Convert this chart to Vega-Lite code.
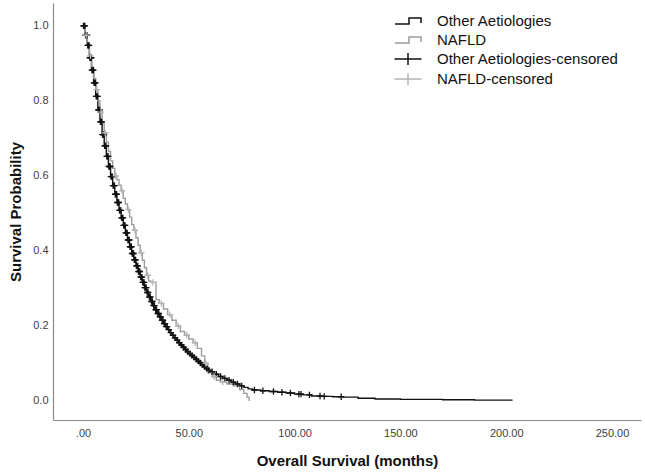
{
  "$schema": "https://vega.github.io/schema/vega-lite/v6.json",
  "width": 588,
  "height": 417,
  "autosize": {"type": "none"},
  "padding": {"left": 53, "top": 3, "right": 4, "bottom": 56},
  "background": "white",
  "config": {
    "view": {"stroke": null},
    "font": "Liberation Sans",
    "axis": {"grid": false, "ticks": false, "domainColor": "#8a8a8a", "domainWidth": 1.2, "labelColor": "#404040", "labelFont": "Liberation Sans", "labelFontSize": 11, "titleFont": "Liberation Sans", "titleFontSize": 15, "titleFontWeight": "bold", "titleColor": "#111111"},
    "legend": {"orient": "none", "legendX": 344, "legendY": 7, "padding": 0, "rowPadding": 0, "symbolSize": 400, "symbolStrokeWidth": 1.5, "symbolFillColor": "transparent", "labelFont": "Liberation Sans", "labelFontSize": 15, "labelColor": "#111111", "labelOffset": 18, "labelLimit": 300}
  },
  "datasets": {
    "curves": [
      {"series": "Other Aetiologies", "t": 0, "s": 1.0},
      {"series": "Other Aetiologies", "t": 1, "s": 0.975},
      {"series": "Other Aetiologies", "t": 2, "s": 0.948},
      {"series": "Other Aetiologies", "t": 3, "s": 0.915},
      {"series": "Other Aetiologies", "t": 4, "s": 0.882},
      {"series": "Other Aetiologies", "t": 5, "s": 0.848},
      {"series": "Other Aetiologies", "t": 6, "s": 0.812},
      {"series": "Other Aetiologies", "t": 7, "s": 0.776},
      {"series": "Other Aetiologies", "t": 8, "s": 0.744},
      {"series": "Other Aetiologies", "t": 9, "s": 0.71},
      {"series": "Other Aetiologies", "t": 10, "s": 0.68},
      {"series": "Other Aetiologies", "t": 11, "s": 0.652},
      {"series": "Other Aetiologies", "t": 12, "s": 0.625},
      {"series": "Other Aetiologies", "t": 13, "s": 0.598},
      {"series": "Other Aetiologies", "t": 14, "s": 0.574},
      {"series": "Other Aetiologies", "t": 15, "s": 0.551},
      {"series": "Other Aetiologies", "t": 16, "s": 0.529},
      {"series": "Other Aetiologies", "t": 17, "s": 0.508},
      {"series": "Other Aetiologies", "t": 18, "s": 0.488},
      {"series": "Other Aetiologies", "t": 19, "s": 0.468},
      {"series": "Other Aetiologies", "t": 20, "s": 0.448},
      {"series": "Other Aetiologies", "t": 21, "s": 0.429},
      {"series": "Other Aetiologies", "t": 22, "s": 0.411},
      {"series": "Other Aetiologies", "t": 23, "s": 0.393},
      {"series": "Other Aetiologies", "t": 24, "s": 0.376},
      {"series": "Other Aetiologies", "t": 25, "s": 0.36},
      {"series": "Other Aetiologies", "t": 26, "s": 0.345},
      {"series": "Other Aetiologies", "t": 27, "s": 0.33},
      {"series": "Other Aetiologies", "t": 28, "s": 0.316},
      {"series": "Other Aetiologies", "t": 29, "s": 0.302},
      {"series": "Other Aetiologies", "t": 30, "s": 0.289},
      {"series": "Other Aetiologies", "t": 31, "s": 0.277},
      {"series": "Other Aetiologies", "t": 32, "s": 0.265},
      {"series": "Other Aetiologies", "t": 33, "s": 0.254},
      {"series": "Other Aetiologies", "t": 34, "s": 0.243},
      {"series": "Other Aetiologies", "t": 35, "s": 0.233},
      {"series": "Other Aetiologies", "t": 36, "s": 0.224},
      {"series": "Other Aetiologies", "t": 37, "s": 0.215},
      {"series": "Other Aetiologies", "t": 38, "s": 0.206},
      {"series": "Other Aetiologies", "t": 39, "s": 0.198},
      {"series": "Other Aetiologies", "t": 40, "s": 0.19},
      {"series": "Other Aetiologies", "t": 41, "s": 0.182},
      {"series": "Other Aetiologies", "t": 42, "s": 0.175},
      {"series": "Other Aetiologies", "t": 43, "s": 0.168},
      {"series": "Other Aetiologies", "t": 44, "s": 0.162},
      {"series": "Other Aetiologies", "t": 45, "s": 0.155},
      {"series": "Other Aetiologies", "t": 46, "s": 0.149},
      {"series": "Other Aetiologies", "t": 47, "s": 0.143},
      {"series": "Other Aetiologies", "t": 48, "s": 0.137},
      {"series": "Other Aetiologies", "t": 49, "s": 0.131},
      {"series": "Other Aetiologies", "t": 50, "s": 0.126},
      {"series": "Other Aetiologies", "t": 51, "s": 0.121},
      {"series": "Other Aetiologies", "t": 52, "s": 0.116},
      {"series": "Other Aetiologies", "t": 53, "s": 0.111},
      {"series": "Other Aetiologies", "t": 54, "s": 0.106},
      {"series": "Other Aetiologies", "t": 55, "s": 0.101},
      {"series": "Other Aetiologies", "t": 56, "s": 0.096},
      {"series": "Other Aetiologies", "t": 57, "s": 0.091},
      {"series": "Other Aetiologies", "t": 58, "s": 0.086},
      {"series": "Other Aetiologies", "t": 59, "s": 0.082},
      {"series": "Other Aetiologies", "t": 60, "s": 0.078},
      {"series": "Other Aetiologies", "t": 62, "s": 0.071},
      {"series": "Other Aetiologies", "t": 64, "s": 0.065},
      {"series": "Other Aetiologies", "t": 66, "s": 0.06},
      {"series": "Other Aetiologies", "t": 68, "s": 0.055},
      {"series": "Other Aetiologies", "t": 70, "s": 0.05},
      {"series": "Other Aetiologies", "t": 72, "s": 0.045},
      {"series": "Other Aetiologies", "t": 74, "s": 0.04},
      {"series": "Other Aetiologies", "t": 76, "s": 0.036},
      {"series": "Other Aetiologies", "t": 78, "s": 0.032},
      {"series": "Other Aetiologies", "t": 80, "s": 0.029},
      {"series": "Other Aetiologies", "t": 84, "s": 0.027},
      {"series": "Other Aetiologies", "t": 88, "s": 0.025},
      {"series": "Other Aetiologies", "t": 92, "s": 0.023},
      {"series": "Other Aetiologies", "t": 96, "s": 0.021},
      {"series": "Other Aetiologies", "t": 100, "s": 0.018},
      {"series": "Other Aetiologies", "t": 104, "s": 0.016},
      {"series": "Other Aetiologies", "t": 108, "s": 0.013},
      {"series": "Other Aetiologies", "t": 113, "s": 0.012},
      {"series": "Other Aetiologies", "t": 118, "s": 0.011},
      {"series": "Other Aetiologies", "t": 123, "s": 0.01},
      {"series": "Other Aetiologies", "t": 130, "s": 0.007},
      {"series": "Other Aetiologies", "t": 138, "s": 0.005},
      {"series": "Other Aetiologies", "t": 150, "s": 0.004},
      {"series": "Other Aetiologies", "t": 170, "s": 0.003},
      {"series": "Other Aetiologies", "t": 185, "s": 0.002},
      {"series": "Other Aetiologies", "t": 203, "s": 0.002},
      {"series": "NAFLD", "t": 0, "s": 1.0},
      {"series": "NAFLD", "t": 1, "s": 0.975},
      {"series": "NAFLD", "t": 2, "s": 0.95},
      {"series": "NAFLD", "t": 3, "s": 0.92},
      {"series": "NAFLD", "t": 4, "s": 0.89},
      {"series": "NAFLD", "t": 5, "s": 0.86},
      {"series": "NAFLD", "t": 6, "s": 0.83},
      {"series": "NAFLD", "t": 7, "s": 0.8},
      {"series": "NAFLD", "t": 8, "s": 0.77},
      {"series": "NAFLD", "t": 9, "s": 0.74},
      {"series": "NAFLD", "t": 10, "s": 0.715},
      {"series": "NAFLD", "t": 11, "s": 0.69},
      {"series": "NAFLD", "t": 12, "s": 0.665},
      {"series": "NAFLD", "t": 13, "s": 0.64},
      {"series": "NAFLD", "t": 14, "s": 0.62},
      {"series": "NAFLD", "t": 15, "s": 0.6},
      {"series": "NAFLD", "t": 16, "s": 0.59},
      {"series": "NAFLD", "t": 17, "s": 0.575},
      {"series": "NAFLD", "t": 18, "s": 0.56},
      {"series": "NAFLD", "t": 19, "s": 0.54},
      {"series": "NAFLD", "t": 20, "s": 0.525},
      {"series": "NAFLD", "t": 21, "s": 0.51},
      {"series": "NAFLD", "t": 22, "s": 0.49},
      {"series": "NAFLD", "t": 23, "s": 0.47},
      {"series": "NAFLD", "t": 24, "s": 0.455},
      {"series": "NAFLD", "t": 25, "s": 0.435},
      {"series": "NAFLD", "t": 26, "s": 0.415},
      {"series": "NAFLD", "t": 27, "s": 0.395},
      {"series": "NAFLD", "t": 28, "s": 0.375},
      {"series": "NAFLD", "t": 29, "s": 0.355},
      {"series": "NAFLD", "t": 30, "s": 0.335},
      {"series": "NAFLD", "t": 31, "s": 0.32},
      {"series": "NAFLD", "t": 32, "s": 0.316},
      {"series": "NAFLD", "t": 34.5, "s": 0.27},
      {"series": "NAFLD", "t": 36, "s": 0.26},
      {"series": "NAFLD", "t": 38, "s": 0.245},
      {"series": "NAFLD", "t": 40, "s": 0.23},
      {"series": "NAFLD", "t": 42, "s": 0.215},
      {"series": "NAFLD", "t": 44, "s": 0.2},
      {"series": "NAFLD", "t": 46, "s": 0.185},
      {"series": "NAFLD", "t": 48, "s": 0.175},
      {"series": "NAFLD", "t": 50, "s": 0.165},
      {"series": "NAFLD", "t": 52, "s": 0.155},
      {"series": "NAFLD", "t": 54, "s": 0.14},
      {"series": "NAFLD", "t": 56, "s": 0.12},
      {"series": "NAFLD", "t": 57.5, "s": 0.1},
      {"series": "NAFLD", "t": 59, "s": 0.075},
      {"series": "NAFLD", "t": 61, "s": 0.065},
      {"series": "NAFLD", "t": 63, "s": 0.055},
      {"series": "NAFLD", "t": 65, "s": 0.05},
      {"series": "NAFLD", "t": 68, "s": 0.045},
      {"series": "NAFLD", "t": 71, "s": 0.04},
      {"series": "NAFLD", "t": 74, "s": 0.03},
      {"series": "NAFLD", "t": 76, "s": 0.02},
      {"series": "NAFLD", "t": 77.5, "s": 0.01},
      {"series": "NAFLD", "t": 78.5, "s": 0.0}
    ],
    "censored": [
      {"series": "Other Aetiologies-censored", "t": 0.2, "s": 1.0},
      {"series": "Other Aetiologies-censored", "t": 0.55, "s": 1.0},
      {"series": "Other Aetiologies-censored", "t": 0.85, "s": 1.0},
      {"series": "Other Aetiologies-censored", "t": 1.2, "s": 0.975},
      {"series": "Other Aetiologies-censored", "t": 1.55, "s": 0.975},
      {"series": "Other Aetiologies-censored", "t": 1.85, "s": 0.975},
      {"series": "Other Aetiologies-censored", "t": 2.2, "s": 0.948},
      {"series": "Other Aetiologies-censored", "t": 2.55, "s": 0.948},
      {"series": "Other Aetiologies-censored", "t": 2.85, "s": 0.948},
      {"series": "Other Aetiologies-censored", "t": 3.2, "s": 0.915},
      {"series": "Other Aetiologies-censored", "t": 3.55, "s": 0.915},
      {"series": "Other Aetiologies-censored", "t": 3.85, "s": 0.915},
      {"series": "Other Aetiologies-censored", "t": 4.2, "s": 0.882},
      {"series": "Other Aetiologies-censored", "t": 4.55, "s": 0.882},
      {"series": "Other Aetiologies-censored", "t": 4.85, "s": 0.882},
      {"series": "Other Aetiologies-censored", "t": 5.2, "s": 0.848},
      {"series": "Other Aetiologies-censored", "t": 5.55, "s": 0.848},
      {"series": "Other Aetiologies-censored", "t": 5.85, "s": 0.848},
      {"series": "Other Aetiologies-censored", "t": 6.2, "s": 0.812},
      {"series": "Other Aetiologies-censored", "t": 6.55, "s": 0.812},
      {"series": "Other Aetiologies-censored", "t": 6.85, "s": 0.812},
      {"series": "Other Aetiologies-censored", "t": 7.2, "s": 0.776},
      {"series": "Other Aetiologies-censored", "t": 7.55, "s": 0.776},
      {"series": "Other Aetiologies-censored", "t": 7.85, "s": 0.776},
      {"series": "Other Aetiologies-censored", "t": 8.2, "s": 0.744},
      {"series": "Other Aetiologies-censored", "t": 8.55, "s": 0.744},
      {"series": "Other Aetiologies-censored", "t": 8.85, "s": 0.744},
      {"series": "Other Aetiologies-censored", "t": 9.2, "s": 0.71},
      {"series": "Other Aetiologies-censored", "t": 9.55, "s": 0.71},
      {"series": "Other Aetiologies-censored", "t": 9.85, "s": 0.71},
      {"series": "Other Aetiologies-censored", "t": 10.2, "s": 0.68},
      {"series": "Other Aetiologies-censored", "t": 10.55, "s": 0.68},
      {"series": "Other Aetiologies-censored", "t": 10.85, "s": 0.68},
      {"series": "Other Aetiologies-censored", "t": 11.2, "s": 0.652},
      {"series": "Other Aetiologies-censored", "t": 11.55, "s": 0.652},
      {"series": "Other Aetiologies-censored", "t": 11.85, "s": 0.652},
      {"series": "Other Aetiologies-censored", "t": 12.2, "s": 0.625},
      {"series": "Other Aetiologies-censored", "t": 12.55, "s": 0.625},
      {"series": "Other Aetiologies-censored", "t": 12.85, "s": 0.625},
      {"series": "Other Aetiologies-censored", "t": 13.2, "s": 0.598},
      {"series": "Other Aetiologies-censored", "t": 13.55, "s": 0.598},
      {"series": "Other Aetiologies-censored", "t": 13.85, "s": 0.598},
      {"series": "Other Aetiologies-censored", "t": 14.2, "s": 0.574},
      {"series": "Other Aetiologies-censored", "t": 14.55, "s": 0.574},
      {"series": "Other Aetiologies-censored", "t": 14.85, "s": 0.574},
      {"series": "Other Aetiologies-censored", "t": 15.2, "s": 0.551},
      {"series": "Other Aetiologies-censored", "t": 15.55, "s": 0.551},
      {"series": "Other Aetiologies-censored", "t": 15.85, "s": 0.551},
      {"series": "Other Aetiologies-censored", "t": 16.2, "s": 0.529},
      {"series": "Other Aetiologies-censored", "t": 16.55, "s": 0.529},
      {"series": "Other Aetiologies-censored", "t": 16.85, "s": 0.529},
      {"series": "Other Aetiologies-censored", "t": 17.2, "s": 0.508},
      {"series": "Other Aetiologies-censored", "t": 17.55, "s": 0.508},
      {"series": "Other Aetiologies-censored", "t": 17.85, "s": 0.508},
      {"series": "Other Aetiologies-censored", "t": 18.2, "s": 0.488},
      {"series": "Other Aetiologies-censored", "t": 18.55, "s": 0.488},
      {"series": "Other Aetiologies-censored", "t": 18.85, "s": 0.488},
      {"series": "Other Aetiologies-censored", "t": 19.2, "s": 0.468},
      {"series": "Other Aetiologies-censored", "t": 19.55, "s": 0.468},
      {"series": "Other Aetiologies-censored", "t": 19.85, "s": 0.468},
      {"series": "Other Aetiologies-censored", "t": 20.2, "s": 0.448},
      {"series": "Other Aetiologies-censored", "t": 20.55, "s": 0.448},
      {"series": "Other Aetiologies-censored", "t": 20.85, "s": 0.448},
      {"series": "Other Aetiologies-censored", "t": 21.2, "s": 0.429},
      {"series": "Other Aetiologies-censored", "t": 21.55, "s": 0.429},
      {"series": "Other Aetiologies-censored", "t": 21.85, "s": 0.429},
      {"series": "Other Aetiologies-censored", "t": 22.2, "s": 0.411},
      {"series": "Other Aetiologies-censored", "t": 22.55, "s": 0.411},
      {"series": "Other Aetiologies-censored", "t": 22.85, "s": 0.411},
      {"series": "Other Aetiologies-censored", "t": 23.2, "s": 0.393},
      {"series": "Other Aetiologies-censored", "t": 23.55, "s": 0.393},
      {"series": "Other Aetiologies-censored", "t": 23.85, "s": 0.393},
      {"series": "Other Aetiologies-censored", "t": 24.2, "s": 0.376},
      {"series": "Other Aetiologies-censored", "t": 24.55, "s": 0.376},
      {"series": "Other Aetiologies-censored", "t": 24.85, "s": 0.376},
      {"series": "Other Aetiologies-censored", "t": 25.2, "s": 0.36},
      {"series": "Other Aetiologies-censored", "t": 25.55, "s": 0.36},
      {"series": "Other Aetiologies-censored", "t": 25.85, "s": 0.36},
      {"series": "Other Aetiologies-censored", "t": 26.2, "s": 0.345},
      {"series": "Other Aetiologies-censored", "t": 26.55, "s": 0.345},
      {"series": "Other Aetiologies-censored", "t": 26.85, "s": 0.345},
      {"series": "Other Aetiologies-censored", "t": 27.2, "s": 0.33},
      {"series": "Other Aetiologies-censored", "t": 27.55, "s": 0.33},
      {"series": "Other Aetiologies-censored", "t": 27.85, "s": 0.33},
      {"series": "Other Aetiologies-censored", "t": 28.2, "s": 0.316},
      {"series": "Other Aetiologies-censored", "t": 28.55, "s": 0.316},
      {"series": "Other Aetiologies-censored", "t": 28.85, "s": 0.316},
      {"series": "Other Aetiologies-censored", "t": 29.2, "s": 0.302},
      {"series": "Other Aetiologies-censored", "t": 29.55, "s": 0.302},
      {"series": "Other Aetiologies-censored", "t": 29.85, "s": 0.302},
      {"series": "Other Aetiologies-censored", "t": 30.35, "s": 0.289},
      {"series": "Other Aetiologies-censored", "t": 30.75, "s": 0.289},
      {"series": "Other Aetiologies-censored", "t": 31.35, "s": 0.277},
      {"series": "Other Aetiologies-censored", "t": 31.75, "s": 0.277},
      {"series": "Other Aetiologies-censored", "t": 32.35, "s": 0.265},
      {"series": "Other Aetiologies-censored", "t": 32.75, "s": 0.265},
      {"series": "Other Aetiologies-censored", "t": 33.35, "s": 0.254},
      {"series": "Other Aetiologies-censored", "t": 33.75, "s": 0.254},
      {"series": "Other Aetiologies-censored", "t": 34.35, "s": 0.243},
      {"series": "Other Aetiologies-censored", "t": 34.75, "s": 0.243},
      {"series": "Other Aetiologies-censored", "t": 35.35, "s": 0.233},
      {"series": "Other Aetiologies-censored", "t": 35.75, "s": 0.233},
      {"series": "Other Aetiologies-censored", "t": 36.35, "s": 0.224},
      {"series": "Other Aetiologies-censored", "t": 36.75, "s": 0.224},
      {"series": "Other Aetiologies-censored", "t": 37.35, "s": 0.215},
      {"series": "Other Aetiologies-censored", "t": 37.75, "s": 0.215},
      {"series": "Other Aetiologies-censored", "t": 38.35, "s": 0.206},
      {"series": "Other Aetiologies-censored", "t": 38.75, "s": 0.206},
      {"series": "Other Aetiologies-censored", "t": 39.35, "s": 0.198},
      {"series": "Other Aetiologies-censored", "t": 39.75, "s": 0.198},
      {"series": "Other Aetiologies-censored", "t": 40.5, "s": 0.19},
      {"series": "Other Aetiologies-censored", "t": 41.5, "s": 0.182},
      {"series": "Other Aetiologies-censored", "t": 42.5, "s": 0.175},
      {"series": "Other Aetiologies-censored", "t": 43.5, "s": 0.168},
      {"series": "Other Aetiologies-censored", "t": 44.5, "s": 0.162},
      {"series": "Other Aetiologies-censored", "t": 45.5, "s": 0.155},
      {"series": "Other Aetiologies-censored", "t": 46.5, "s": 0.149},
      {"series": "Other Aetiologies-censored", "t": 47.5, "s": 0.143},
      {"series": "Other Aetiologies-censored", "t": 48.5, "s": 0.137},
      {"series": "Other Aetiologies-censored", "t": 49.5, "s": 0.131},
      {"series": "Other Aetiologies-censored", "t": 50.5, "s": 0.126},
      {"series": "Other Aetiologies-censored", "t": 51.5, "s": 0.121},
      {"series": "Other Aetiologies-censored", "t": 52.5, "s": 0.116},
      {"series": "Other Aetiologies-censored", "t": 53.5, "s": 0.111},
      {"series": "Other Aetiologies-censored", "t": 54.5, "s": 0.106},
      {"series": "Other Aetiologies-censored", "t": 55.5, "s": 0.101},
      {"series": "Other Aetiologies-censored", "t": 56.5, "s": 0.096},
      {"series": "Other Aetiologies-censored", "t": 57.5, "s": 0.091},
      {"series": "Other Aetiologies-censored", "t": 58.5, "s": 0.086},
      {"series": "Other Aetiologies-censored", "t": 59.5, "s": 0.082},
      {"series": "Other Aetiologies-censored", "t": 61, "s": 0.078},
      {"series": "Other Aetiologies-censored", "t": 63, "s": 0.071},
      {"series": "Other Aetiologies-censored", "t": 65, "s": 0.065},
      {"series": "Other Aetiologies-censored", "t": 67, "s": 0.06},
      {"series": "Other Aetiologies-censored", "t": 69, "s": 0.055},
      {"series": "Other Aetiologies-censored", "t": 71, "s": 0.05},
      {"series": "Other Aetiologies-censored", "t": 73, "s": 0.045},
      {"series": "Other Aetiologies-censored", "t": 75, "s": 0.04},
      {"series": "Other Aetiologies-censored", "t": 81, "s": 0.029},
      {"series": "Other Aetiologies-censored", "t": 85, "s": 0.027},
      {"series": "Other Aetiologies-censored", "t": 90, "s": 0.025},
      {"series": "Other Aetiologies-censored", "t": 94, "s": 0.023},
      {"series": "Other Aetiologies-censored", "t": 98, "s": 0.021},
      {"series": "Other Aetiologies-censored", "t": 102, "s": 0.018},
      {"series": "Other Aetiologies-censored", "t": 103, "s": 0.018},
      {"series": "Other Aetiologies-censored", "t": 107, "s": 0.016},
      {"series": "Other Aetiologies-censored", "t": 112, "s": 0.013},
      {"series": "Other Aetiologies-censored", "t": 114, "s": 0.012},
      {"series": "Other Aetiologies-censored", "t": 122, "s": 0.011},
      {"series": "NAFLD-censored", "t": 1.5, "s": 0.975},
      {"series": "NAFLD-censored", "t": 3.5, "s": 0.92},
      {"series": "NAFLD-censored", "t": 6.5, "s": 0.83},
      {"series": "NAFLD-censored", "t": 8.5, "s": 0.77},
      {"series": "NAFLD-censored", "t": 10.5, "s": 0.715},
      {"series": "NAFLD-censored", "t": 15.5, "s": 0.6},
      {"series": "NAFLD-censored", "t": 18.5, "s": 0.56},
      {"series": "NAFLD-censored", "t": 21.5, "s": 0.51},
      {"series": "NAFLD-censored", "t": 24.5, "s": 0.455},
      {"series": "NAFLD-censored", "t": 27.5, "s": 0.395},
      {"series": "NAFLD-censored", "t": 30.5, "s": 0.335},
      {"series": "NAFLD-censored", "t": 33, "s": 0.316},
      {"series": "NAFLD-censored", "t": 37, "s": 0.26},
      {"series": "NAFLD-censored", "t": 41, "s": 0.23},
      {"series": "NAFLD-censored", "t": 45, "s": 0.2},
      {"series": "NAFLD-censored", "t": 49, "s": 0.175},
      {"series": "NAFLD-censored", "t": 53, "s": 0.155},
      {"series": "NAFLD-censored", "t": 58, "s": 0.1},
      {"series": "NAFLD-censored", "t": 62, "s": 0.065},
      {"series": "NAFLD-censored", "t": 66, "s": 0.05}
    ],
    "legendrows": [
      {"series": "Other Aetiologies", "t": null, "s": null},
      {"series": "NAFLD", "t": null, "s": null},
      {"series": "Other Aetiologies-censored", "t": null, "s": null},
      {"series": "NAFLD-censored", "t": null, "s": null}
    ]
  },
  "encoding": {
    "x": {"field": "t", "type": "quantitative", "scale": {"domain": [-14.2, 263.7], "nice": false, "zero": false},
      "axis": {"values": [0, 50, 100, 150, 200, 250], "labelExpr": "datum.value == 0 ? '.00' : format(datum.value, '.2f')", "labelPadding": 7, "title": "Overall Survival (months)", "titlePadding": 15}},
    "y": {"field": "s", "type": "quantitative", "scale": {"domain": [-0.051, 1.061], "nice": false, "zero": false},
      "axis": {"values": [0, 0.2, 0.4, 0.6, 0.8, 1.0], "format": ".1f", "labelPadding": 5, "title": "Survival Probability", "titlePadding": 9}}
  },
  "layer": [
    {
      "data": {"name": "curves"},
      "mark": {"type": "line", "interpolate": "step-after", "strokeWidth": 1.4},
      "encoding": {
        "color": {"field": "series", "type": "nominal", "title": null,
          "scale": {"domain": ["Other Aetiologies", "NAFLD", "Other Aetiologies-censored", "NAFLD-censored"], "range": ["#111111", "#9c9c9c", "#111111", "#b4b4b4"]}},
        "order": {"field": "t", "type": "quantitative"}
      }
    },
    {
      "data": {"name": "censored"},
      "mark": {"type": "point", "filled": false, "shape": "M-1,0H1M0,-1V1", "size": 42, "strokeWidth": 1.3, "opacity": 1},
      "encoding": {"color": {"field": "series", "type": "nominal", "title": null}}
    },
    {
      "data": {"name": "legendrows"},
      "mark": {"type": "point", "filled": false, "strokeWidth": 1.5, "opacity": 1},
      "encoding": {
        "color": {"field": "series", "type": "nominal", "title": null},
        "shape": {"field": "series", "type": "nominal", "title": null,
          "scale": {"domain": ["Other Aetiologies", "NAFLD", "Other Aetiologies-censored", "NAFLD-censored"], "range": ["M-1.3,0.3H0.1V-0.3H1.3V0.2", "M-1.3,0.3H0.1V-0.3H1.3V0.2", "M-1.35,0H1.35M0,-0.6V0.6", "M-1.35,0H1.35M0,-0.6V0.6"]}}
      }
    }
  ]
}
